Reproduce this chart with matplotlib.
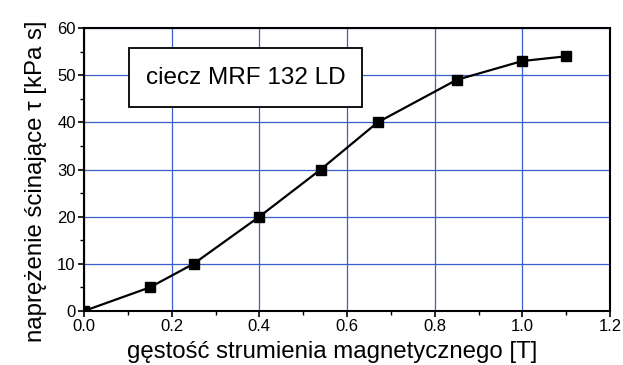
import matplotlib
matplotlib.use("Agg")
import matplotlib.pyplot as plt
from matplotlib.ticker import MultipleLocator
from matplotlib.patches import Rectangle

x_vals = [0.0, 0.15, 0.25, 0.40, 0.54, 0.67, 0.85, 1.00, 1.10]
y_vals = [0, 5, 10, 20, 30, 40, 49, 53, 54]
x_ticks = [0.0, 0.2, 0.4, 0.6, 0.8, 1.0, 1.2]
y_ticks = [0, 10, 20, 30, 40, 50, 60]

plt.rcParams['font.family'] = ['Liberation Sans', 'DejaVu Sans']

fig = plt.figure(figsize=(6.23, 3.65), dpi=100)
ax = fig.add_axes([84/623, 1-311/365, (610-84)/623, (311-28)/365])

ax.plot(x_vals, y_vals, color='black', lw=1.6, marker='s', ms=6.5, mfc='black', mec='black', zorder=3)

ax.set_xlim(0, 1.2)
ax.set_ylim(0, 60)
ax.set_xticks(x_ticks)
ax.set_yticks(y_ticks)
ax.set_xticklabels([f"{t:.1f}" for t in x_ticks])
ax.set_yticklabels([str(t) for t in y_ticks])
ax.xaxis.set_minor_locator(MultipleLocator(0.1))
ax.yaxis.set_minor_locator(MultipleLocator(5))
ax.tick_params(which='major', direction='out', length=4, width=1.2, labelsize=12, pad=2)
ax.tick_params(which='minor', direction='out', length=3, width=1.0)
ax.grid(True, which='major', color='#3a5fcd', lw=0.9)
ax.set_axisbelow(True)
for s in ax.spines.values():
    s.set_linewidth(1.5)

ax.set_xlabel("gęstość strumienia magnetycznego [T]", fontsize=17.3, va='center')
ax.xaxis.set_label_coords((332-84)/526, -(352-311)/283)
ax.set_ylabel("naprężenie ścinające τ [kPa s]", fontsize=17.3, va='center')
ax.yaxis.set_label_coords((36-84)/526, (311-181)/283)

ax.add_patch(Rectangle((0.103, 43.3), 0.532, 12.5, fc='white', ec='black', lw=1.3, zorder=4))
ax.text(0.369, 49.4, "ciecz MRF 132 LD", fontsize=17.5, ha='center', va='center', zorder=5)

fig.savefig("out.png", dpi=100)
